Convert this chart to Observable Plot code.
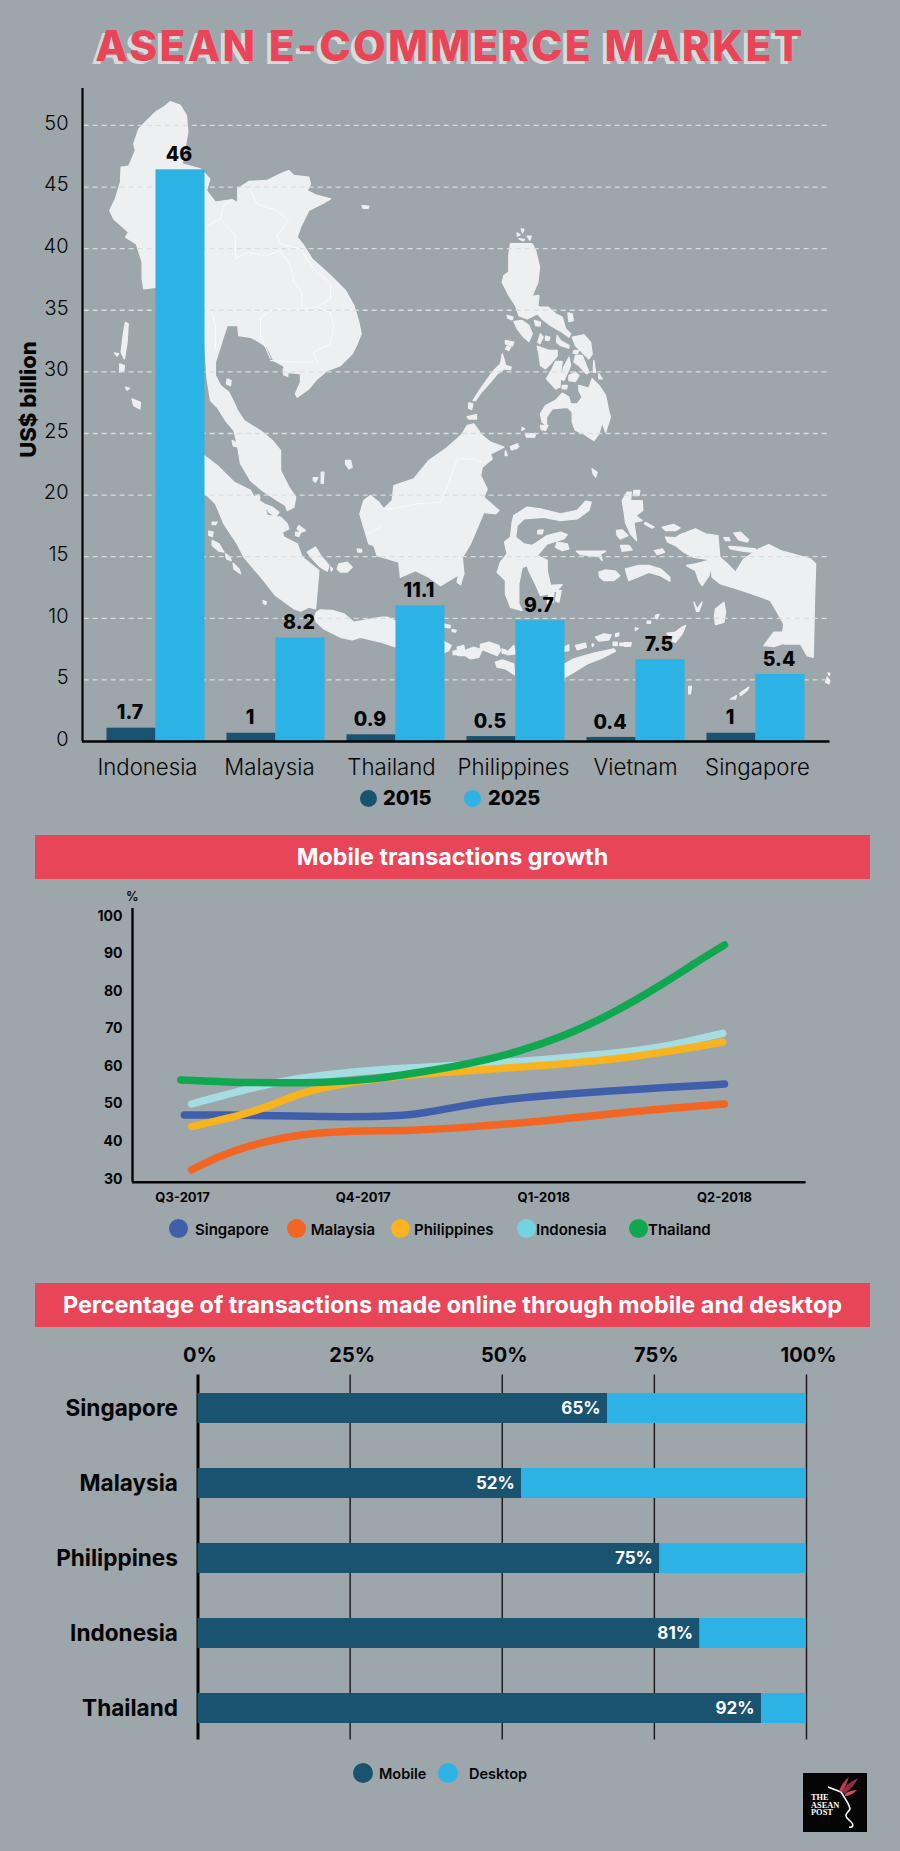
<!DOCTYPE html>
<html><head><meta charset="utf-8">
<script src="https://cdn.jsdelivr.net/npm/d3@7"></script>
<script src="https://cdn.jsdelivr.net/npm/@observablehq/plot@0.6"></script>
<style>
html,body{margin:0;padding:0;background:#9da6aa}
#page{position:relative;width:900px;height:1851px;background:#9da6aa;overflow:hidden;font-family:Inter,"Open Sans",sans-serif;color:#050505}
#page>*{position:absolute}
svg{background:transparent!important;overflow:visible}
#title{left:0;top:17px;width:900px;text-align:center;font-size:42.5px;line-height:58px;font-weight:800;letter-spacing:2.2px;color:#e84558;text-shadow:-4px 3px 0 #d8dbdc;white-space:nowrap}
.banner{left:35px;width:835px;background:#e84558;color:#fff;font-weight:700;text-align:center;white-space:nowrap}
.dot{border-radius:50%}
.lg{font-weight:700;white-space:nowrap;transform:translateY(-50%)}
#logo{left:803px;top:1773px;width:64px;height:59px;background:#050505}
</style></head><body><div id="page"></div>
<script>
// ---------- market size (US$ billion)
const countries = ["Indonesia","Malaysia","Thailand","Philippines","Vietnam","Singapore"];
const years = [2015, 2025];
const bars2015 = [1.08, 0.67, 0.54, 0.40, 0.33, 0.67];
const bars2025 = [46.4, 8.4, 11.0, 9.8, 6.65, 5.44];
const labels2015 = ["1.7","1","0.9","0.5","0.4","1"];
const labels2025 = ["46","8.2","11.1","9.7","7.5","5.4"];
const marketTicks = [0,5,10,15,20,25,30,35,40,45,50];

// ---------- mobile transactions growth: [quarter index, %]
const quarters = ["Q3-2017","Q4-2017","Q1-2018","Q2-2018"];
const singapore = [[.01,47.1],[.24,47.1],[.51,46.9],[.78,46.6],[1.05,46.6],[1.26,46.9],[1.48,48.9],[1.72,50.9],[1.99,52.2],[2.39,53.5],[2.66,54.4],[3,55.3]];
const malaysia = [[.05,32.5],[.21,36.3],[.37,38.9],[.56,41.2],[.78,42.5],[.99,42.9],[1.26,42.9],[1.58,43.8],[1.99,45.4],[2.39,47.5],[2.66,48.7],[3,50]];
const philippines = [[.05,44],[.24,46],[.46,48.9],[.64,52.8],[.83,54.9],[1.05,56.6],[1.31,58],[1.58,58.8],[1.99,60.2],[2.39,61.9],[2.66,63.7],[2.99,66.5]];
const indonesia = [[.05,50],[.24,52.5],[.51,55.8],[.78,57.8],[1.05,59],[1.31,59.7],[1.58,60.4],[1.99,61.7],[2.39,63.5],[2.66,65],[2.99,68.8]];
const thailand = [[-.01,56.4],[.24,55.8],[.51,55.6],[.78,55.7],[1.05,56.5],[1.31,58.4],[1.58,60.6],[1.85,63.7],[2.12,68.1],[2.39,74.3],[2.66,81.9],[2.84,87.6],[3,92.3]];
const growthSeries = [["Singapore",singapore,"#3f5fab"],["Malaysia",malaysia,"#f26522"],["Indonesia",indonesia,"#a5dde2"],["Philippines",philippines,"#f8b31e"],["Thailand",thailand,"#0fa74f"]];
const growthTicks = [30,40,50,60,70,80,90,100];

// ---------- share of transactions
const shareCountries = ["Singapore","Malaysia","Philippines","Indonesia","Thailand"];
const mobileBars = [67.3, 53.2, 75.9, 82.5, 92.6];
const mobileLabels = ["65%","52%","75%","81%","92%"];
const shareTicks = [0,25,50,75,100];

// ---------- backdrop map of the region, [lon, lat]
const mapLand = [
[[94.94,29.78],[95.65,29.5],[96.08,28.78],[96.18,27.59],[96,26.64],[95.77,25.33],[97.08,24.97],[97.75,24.26],[97.51,23.42],[98.15,22.59],[99.34,22.78],[99.75,22.54],[99.75,23.54],[100.54,24.07],[101.84,24.14],[102.8,24.61],[103.39,24.85],[103.75,24.5],[104.82,24.38],[104.94,23.9],[104.7,23.42],[105.42,23.07],[106.37,22.83],[105.89,22.54],[104.82,22],[104.23,20.8],[103.99,20.09],[104.46,19.5],[105.06,18.54],[106.37,17.35],[107.44,16.28],[108.04,15.21],[108.39,14.02],[108.56,13.19],[108.27,12.47],[107.92,11.76],[107.08,10.92],[106.13,10.57],[105.42,9.97],[104.82,9.26],[103.99,8.66],[103.87,8.9],[104.23,9.73],[104.23,10.33],[103.27,10.45],[102.99,10.92],[102.32,11.28],[101.84,12.23],[101.13,12.71],[100.65,12.95],[99.82,13.07],[99.75,13.78],[98.99,13.78],[98.75,13.07],[98.15,11.16],[98.15,10.21],[98.51,9.5],[99.11,9.02],[99.58,8.07],[99.71,7.74],[100.19,7],[101.5,6.17],[102.21,5.57],[102.8,4.86],[102.8,3.43],[103.4,2.24],[103.88,1.53],[103.76,.81],[103.28,.57],[103.16,.93],[102.57,1.29],[101.5,2],[100.66,2.72],[99.95,3.91],[99.71,5.33],[99.47,6.29],[98.88,7],[98.28,7.95],[97.8,8.43],[97.56,9.97],[97.32,13.54],[96,15],[93.87,16.52],[93.04,16.4],[92.92,17.12],[92.92,18.31],[92.51,19.62],[91.73,20.09],[91.96,20.45],[90.89,21.4],[90.61,22],[91.01,22.83],[91.37,24.02],[91.42,25.09],[91.96,25.16],[92.44,26.28],[92.32,26.76],[92.68,27.83],[93.04,28.19],[93.87,29.02],[94.46,29.38]],
[[91.73,14.02],[91.92,13.9],[91.84,12.59],[91.65,11.4],[91.42,11.87],[91.56,13.07]],
[[91.32,11.04],[91.65,10.92],[91.61,10.57],[91.32,10.45]],
[[90.94,11.83],[91.25,11.76],[91.13,11.6]],
[[92.2,8.54],[92.8,8.3],[92.75,7.83],[92.32,8.07]],
[[91.73,9.38],[92.01,9.3],[91.84,9.16]],
[[98.99,9.97],[99.27,9.85],[99.23,9.5],[98.94,9.62]],
[[102.99,10.69],[103.32,10.64],[103.32,10.16],[103.04,10.26]],
[[108.63,22.35],[109.11,22.3],[109.06,22.16],[108.7,22.16]],
// Philippines
[[119.23,19.62],[120.78,19.62],[121.02,19.14],[121.3,17.95],[121.18,16.88],[120.78,15.93],[120.9,15.21],[121.37,15.1],[121.9,15.1],[122.45,14.62],[122.92,14.38],[123.16,13.55],[123.52,13.19],[123.4,12.95],[122.92,13.31],[122.09,13.79],[121.61,14.14],[121.14,14.62],[120.42,14.26],[119.83,14.5],[119.59,15.21],[119.11,15.93],[118.64,16.88],[118.76,17.36],[119.11,17.6],[119.11,18.79]],
[[119.71,20.41],[119.9,20.26],[119.71,20.17]],[[120,20.69],[120.18,20.64],[120.09,20.41]],[[119.83,19.98],[120.23,19.93],[120.14,19.83]],[[120.42,20.17],[120.71,20.17],[120.61,19.88]],
[[120.85,15.88],[121.26,15.93],[121.18,15.21],[120.95,15.26]],
[[123.33,14.69],[123.64,14.62],[123.71,14.14],[123.4,14.07]],
[[119.47,14.07],[120.06,14.14],[120.54,13.79],[120.78,13.19],[120.54,12.64],[120.18,12.95],[119.71,13.55]],
[[118.99,14.5],[119.42,14.38],[119.35,14.19],[119.04,14.31]],
[[120.95,14.14],[121.37,14.02],[121.33,13.74],[121.02,13.79]],
[[122.56,13.07],[122.8,12.71],[123.4,12.36],[123.4,12.17],[122.8,12.36],[122.52,12.6]],
[[123.64,12.95],[124.47,13.12],[124.95,12.6],[125.06,11.76],[124.83,11.4],[124.35,11.88],[123.87,12.36]],
[[121.37,13.19],[121.56,12.95],[121.33,12.48],[121.18,12.6]],[[121.73,13.03],[122.04,12.95],[121.97,12.71],[121.73,12.74]],
[[121.14,12.31],[121.97,12],[122.56,12],[122.56,11.6],[122.09,11.05],[121.73,10.69],[121.37,10.93],[121.26,11.76]],
[[122.45,11.21],[122.92,11.21],[122.8,10.33],[122.76,9.38],[122.45,9.26],[121.8,9.98],[122.21,10.69]],
[[123.4,11.52],[123.52,10.93],[123.04,9.86],[122.8,9.98],[123.04,10.81]],
[[123.87,11.64],[124.35,11.64],[124.83,10.45],[124.66,10.33],[124.11,10.93],[123.76,11.17]],
[[123.4,10.21],[123.87,10.45],[124.11,10.21],[123.87,9.79],[123.4,9.86]],
[[122.92,9.5],[123.28,9.5],[123.23,9.26],[122.92,9.26]],
[[123.76,12],[124.11,12],[124,11.76],[123.71,11.81]],
[[125.18,11.29],[125.3,10.45],[125.14,10.45]],[[125.54,10.33],[125.78,9.98],[125.54,9.98]],
[[124.11,9.5],[124.83,9.31],[125.06,9.98],[125.54,9.5],[126.02,8.79],[126.26,7.6],[126.37,7.24],[126.02,6.17],[125.78,6.88],[125.54,6.05],[125.18,5.57],[124.47,6.05],[123.87,6.29],[123.64,6.88],[123.64,7.6],[123.28,7.95],[122.21,7.83],[121.8,7.24],[121.8,6.69],[121.49,6.88],[121.37,7.48],[121.73,8.07],[122.45,8.43],[122.92,8.95],[123.4,8.67],[123.52,8.19],[124,8.19],[124.35,8.67],[124.11,9.14]],
[[121.37,6.64],[121.9,6.64],[121.73,6.29],[121.42,6.36]],
[[120.3,6.05],[121.02,6.05],[120.95,5.81],[120.37,5.81]],
[[120.06,6.52],[120.23,6.4],[120.04,6.29]],
[[119.23,5.1],[119.75,5.33],[119.71,5.02],[119.28,4.93]],
[[118.64,11.76],[118.76,11.4],[118.87,10.93],[119.28,10.81],[119.23,10.64],[118.76,10.69],[118.28,10.33],[117.8,9.74],[117.09,8.95],[116.73,8.43],[116.56,8.43],[117.09,9.26],[117.68,10.1],[118.04,10.57],[118.52,11.05]],
[[116.26,8.26],[116.54,8.19],[116.45,7.79],[116.23,7.88]],
[[118.87,12.71],[119.47,12.6],[119.35,12.31],[118.87,12.48]],[[118.99,12.31],[119.23,12.24],[119.11,12],[118.87,12.12]],
// Sumatra and neighbours
[[96.61,4.86],[97.33,4.5],[98.28,3.79],[99.47,2.6],[100.66,2],[100.9,1.53],[101.61,1.05],[101.85,.21],[102.8,.1],[103.28,-.38],[103.4,-.74],[102.92,-.98],[103.04,-1.33],[103.99,-1.81],[104.35,-2.76],[105.54,-3.71],[105.42,-5.14],[105.3,-6.45],[104.83,-6.33],[104.23,-6.62],[103.76,-6.45],[102.45,-5.5],[101.61,-4.43],[100.19,-2.76],[99.71,-1.81],[98.76,-.38],[98.16,1.05],[97.57,1.64],[96.61,2.24]],
[[101.61,1.05],[102.21,.81],[102.69,.45],[102.45,.14],[101.97,.45]],
[[100.9,1.53],[101.26,1.69],[101.33,1.41],[101.02,1.29]],
[[104.11,-.5],[104.59,-.86],[104.23,-.98],[103.99,-.74]],
[[103.88,-.98],[104.23,-1.02],[104.11,-1.29],[103.88,-1.21]],
[[105.3,-2.05],[105.66,-2.64],[106.26,-3.36],[106.14,-3.76],[105.66,-3.48],[105.07,-2.88],[104.71,-2.4]],
[[106.97,-3.24],[107.57,-3.12],[107.92,-3.48],[107.57,-3.83],[107.09,-3.83],[106.85,-3.6]],
[[106.38,-3.48],[106.52,-3.6],[106.42,-3.76]],
[[108.28,-2.17],[108.59,-2.21],[108.59,-2.4],[108.33,-2.4]],
[[107.45,4.14],[107.8,4.14],[107.92,3.67],[107.68,3.55],[107.45,3.91]],
[[105.14,2.91],[105.47,2.91],[105.3,2.6],[105.14,2.72]],[[105.71,3.31],[105.9,3.31],[105.85,2.52],[105.71,2.52]],
[[97.92,-.26],[98.28,-.26],[98.16,-.43],[97.92,-.43]],
[[97.68,-.9],[97.99,-.98],[97.92,-1.29],[97.68,-1.21]],
[[97.92,-1.57],[98.4,-1.81],[98.76,-2.4],[98.4,-2.33],[97.92,-1.93]],
[[98.88,-2.52],[99.19,-2.76],[99.28,-3],[98.95,-2.88]],
[[99.42,-3.19],[99.83,-3.6],[99.95,-3.95],[99.47,-3.6]],
[[101.57,-5.86],[101.8,-5.98],[101.73,-6.14],[101.57,-6.05]],
[[99.35,5.57],[99.59,5.45],[99.66,5.14],[99.42,5.2]],
// Java and the Lesser Sundas
[[105.37,-6.69],[105.65,-6.53],[106.49,-6.57],[107.32,-6.81],[108.04,-7.41],[110.06,-7.05],[110.42,-7.05],[110.94,-7.29],[112.56,-8],[112.56,-9.31],[110.94,-9.15],[110.06,-8.84],[108.51,-8.48],[107.92,-8.67],[107.08,-8.48],[105.89,-7.88],[105.37,-7.41],[105.23,-7.05]],
[[114.46,-7.53],[114.94,-7.65],[114.89,-7.81],[114.51,-7.76]],
[[115.06,-7.93],[115.35,-8],[115.3,-8.12],[115.06,-8.07]],
[[114.42,-8.76],[114.99,-9.07],[114.82,-9.43],[114.42,-9.62]],
[[115.13,-9.48],[115.42,-9.43],[115.54,-9.72],[115.13,-9.72]],
[[115.42,-9.19],[115.89,-9.07],[116.01,-9.79],[115.46,-9.79]],
[[116.01,-9.43],[116.6,-9.19],[117.2,-9.38],[116.96,-9.91],[116.37,-10.03],[116.01,-9.79]],
[[117.08,-9],[117.68,-8.84],[118.39,-9.07],[118.51,-9.43],[118.27,-9.79],[117.68,-9.55],[117.08,-9.31]],
[[118.63,-9.31],[118.94,-9.43],[118.87,-9.67],[118.63,-9.62]],
[[118.99,-9.55],[119.46,-9.07],[119.58,-9.67],[118.99,-9.74]],
[[123.04,-9.19],[123.39,-9.03],[123.39,-9.43],[123.04,-9.48]],
[[123.87,-9.07],[124.58,-8.91],[124.65,-9.19],[123.99,-9.38]],
[[118.15,-10.26],[118.63,-10.1],[119.46,-10.38],[119.51,-11.15],[118.87,-10.74],[118.27,-10.62]],
[[122.32,-10.74],[122.92,-10.5],[123.75,-10.03],[125.18,-9.62],[126.61,-9.31],[126.73,-9.48],[125.89,-9.91],[124.7,-10.38],[123.75,-10.98],[122.92,-11.45]],
[[125.3,-8.48],[125.89,-8.24],[126.42,-8.31],[126.25,-8.67],[125.54,-8.76]],
[[126.73,-8.24],[126.96,-8.17],[126.96,-8.36],[126.73,-8.43]],
[[126.56,-8.84],[126.85,-8.84],[126.85,-9.07],[126.56,-9.07]],
[[127.04,-8.91],[127.27,-8.91],[127.27,-9.07],[127.04,-9.07]],
[[127.32,-8.88],[127.85,-8.88],[127.8,-9.12],[127.37,-9.12]],
[[125.06,-8.95],[125.18,-9],[125.08,-9.15]],
[[128.99,-7.34],[129.23,-7.34],[129.23,-7.48],[128.99,-7.48]],
[[129.58,-6.93],[129.82,-6.86],[129.7,-7.17],[129.58,-7.1]],
[[128.15,-7.81],[128.35,-7.86],[128.15,-8]],
[[130.42,-8.19],[131.01,-8.12],[131.49,-7.76],[131.73,-7.65],[131.49,-8.24],[131.01,-8.84],[130.77,-8.76],[130.89,-8.36],[130.47,-8.33]],
[[131.96,-12],[132.15,-12],[132.08,-12.53],[131.96,-12.53]],
// Borneo
[[108.47,.33],[108.75,1.28],[109.23,1.64],[109.82,1.16],[110.18,.69],[110.78,1.28],[110.9,2.35],[112.32,2.83],[113.4,4.14],[114.59,4.97],[115.42,5.69],[115.78,6.04],[116.13,6.64],[116.61,6.76],[117.2,5.92],[117.8,5.45],[118.75,5.09],[118.28,4.85],[117.8,4.61],[117.92,4.26],[117.2,3.66],[117.09,3.07],[117.56,2.11],[117.32,1.52],[118.4,.57],[118.16,.33],[117.32,.45],[116.97,-.39],[116.37,-1.81],[115.78,-2.77],[115.9,-3.96],[115.42,-4.08],[114.23,-4.79],[113.4,-4.19],[112.44,-3.72],[111.37,-4.19],[111.25,-3.12],[109.7,-2.65],[109.47,-1.93],[109.11,-1.81],[108.75,-.62]],
[[116.13,7.28],[116.8,7.42],[116.8,7.11],[116.25,7.11]],
[[119.23,5.14],[119.7,5.33],[119.82,5.14],[119.35,4.9]],
[[118.87,4.85],[118.99,4.5],[118.85,4.5]],
[[115.54,-3.96],[115.9,-3.91],[115.66,-4.72],[115.42,-4.55]],
// Sulawesi
[[119.35,-.27],[119.47,.21],[120.42,.81],[121.37,.69],[122.8,.33],[123.99,.57],[124.59,1.23],[124.99,1.16],[124.82,.57],[123.99,-.03],[122.8,-.15],[121.61,.09],[120.18,-.03],[119.7,-.5],[119.59,-1.34],[120.18,-1.81],[120.78,-1.93],[121.85,-1.22],[122.8,-.98],[123.28,-1.15],[123.04,-1.46],[121.85,-1.81],[121.13,-2.65],[121.85,-3],[121.85,-3.72],[122.09,-4.79],[122.92,-4.72],[122.56,-5.15],[121.85,-5.39],[121.37,-5.5],[121.01,-4.67],[120.54,-3.72],[120.42,-3.36],[120.06,-3.48],[119.82,-4.67],[119.82,-6.1],[120.06,-6.58],[119.23,-6.34],[118.87,-5.39],[118.87,-4.43],[118.28,-3.84],[118.51,-3.12],[118.99,-2.53],[118.8,-1.69],[119.23,-1.34]],
[[122.56,-1.69],[123.28,-1.81],[123.4,-2.17],[122.92,-2.29],[122.44,-2.05]],
[[121.18,-.86],[121.56,-.81],[121.49,-1.1],[121.18,-1.1]],
[[121.97,-5.39],[122.32,-5.27],[122.28,-5.98],[121.85,-6.05]],
[[122.56,-5.15],[122.85,-5.15],[122.68,-5.98],[122.44,-5.86]],
[[125.06,3.54],[125.42,3.3],[125.3,2.95],[125.13,3.19]],
// Maluku and Papua
[[123.94,-2.34],[126.02,-2.34],[125.66,-2.53],[125.78,-3],[125.54,-2.72],[124.23,-2.58]],
[[125.54,-3.84],[126.02,-3.67],[126.73,-3.77],[127.04,-4.08],[126.61,-4.43],[125.9,-4.43],[125.61,-4.19]],
[[127.44,-3.6],[128.4,-3.36],[129.11,-3.36],[129.94,-3.6],[130.61,-4.19],[130.61,-4.48],[129.94,-4.08],[129.11,-3.84],[128.28,-4.19],[127.68,-4.43],[127.56,-4.08]],
[[127.21,1.28],[127.56,1.88],[127.85,1.88],[127.8,1.28],[128.63,1.28],[128.68,.57],[128.16,.21],[128.63,-.15],[128.04,-.27],[128.23,-1.58],[127.8,-1.1],[127.44,-.27],[127.33,.57]],
[[128.04,2],[128.47,2],[128.4,1.64],[128,1.64]],
[[128.87,-.27],[129.47,-.62],[129.35,-.69],[128.8,-.39]],
[[126.8,-.86],[127.2,-.81],[127.61,-1.22],[127.09,-1.46],[126.85,-1.22]],
[[127.09,-1.93],[127.68,-1.93],[127.92,-2.24],[127.21,-2.34]],
[[129.52,-2.29],[130.06,-2.17],[130.23,-2.41],[129.71,-2.58]],
[[130.06,-.62],[130.9,-.43],[131.33,-.67],[131.02,-.86],[130.3,-.86]],
[[130.3,-1.34],[131.02,-1.38],[131.37,-1.15],[132.44,-.74],[133.16,-1.1],[134.04,-1.22],[134.18,-2.77],[134.71,-3.24],[135.3,-3.84],[135.9,-2.89],[136.97,-2.17],[137.68,-1.86],[138.52,-2.29],[140.66,-2.89],[141.02,-3.24],[140.94,-5.86],[140.85,-9.91],[140.42,-9.79],[139.94,-8.96],[138.75,-8.96],[138.63,-8.48],[138.75,-7.53],[138.28,-6.69],[137.8,-5.86],[136.85,-5.5],[135.42,-5.03],[134.23,-4.67],[133.63,-4.19],[133.52,-3.12],[133.23,-2.89],[132.33,-2.77],[131.61,-2.41],[131.02,-1.93],[130.47,-1.69]],
[[131.8,-3.36],[132.44,-3.24],[133.4,-3],[133.63,-3.12],[133.4,-4.08],[132.92,-4.79],[132.68,-4.43],[132.44,-3.72]],
[[135.18,-1.05],[135.66,-.98],[136.25,-1.53],[136.13,-1.69],[135.54,-1.53]],
[[134.82,-2],[135.66,-2.05],[136.73,-2.17],[136.61,-2.41],[135.9,-2.34],[134.94,-2.17]],
[[134.47,-1.38],[134.82,-1.38],[134.9,-1.58],[134.59,-1.58]],
[[137.33,-9.08],[138.04,-8.12],[138.71,-8.12],[138.63,-8.96],[138.04,-9.15]],
[[133.87,-6.46],[134.47,-5.98],[134.59,-6.69],[134.47,-7.41],[133.87,-7.58],[133.8,-7.05]],
[[132.33,-5.98],[132.56,-6.46],[132.92,-5.98],[132.68,-6.62],[132.52,-6.62]],
[[141.85,-11.34],[142.04,-11.58],[141.97,-11.81],[141.73,-11.69]],
[[141.9,-11.05],[142.04,-11.05],[142,-11.2]],
[[134.94,-12.9],[135.37,-12.65],[135.3,-12.9]],
[[135.61,-12.48],[136.25,-12.05],[136.13,-12.29],[135.66,-12.65]]
];
const mapBorders = [
[[100.54,23.66],[101.13,22.47],[102.56,22],[103.39,21.28],[102.56,20.21],[102.8,19.62],[104.23,19.26],[105.18,17.83],[106.37,16.76],[106.37,15.69],[105.42,15.09],[106.37,14.73],[106.6,13.78],[106.37,12.47],[105.18,11.88],[105.42,11.16]],
[[97.56,20.92],[98.51,21.4],[98.75,22.35],[99.34,22.78]],
[[98.51,21.4],[99.58,20.21],[99.58,18.54],[100.42,19.02],[101.84,18.78],[102.8,19.14],[103.51,18.07],[103.75,16.88],[104.34,16.16],[104.34,14.97],[102.32,14.97],[101.37,14.38],[101.37,13.07],[102.08,11.4]],
[[102.08,11.28],[103.99,11.16],[105.18,11.16]],
[[104.34,14.97],[105.42,15.09]],
[[97.8,14.97],[98.15,13.78],[98.15,12.12]],
[[110.18,.69],[110.78,.69],[112.56,1.04],[114.23,1.16],[114.7,2.23],[115.42,4.26],[116.49,4.26],[117.2,4.02]],
[[108.99,-1.1],[109.94,-.62]]
];

// ---------- page helpers
const page = document.getElementById("page");
const bg = "#9da6aa", dark = "#1a5370", blue = "#2db2e6", ink = "#050505";
function place(node, left, top){ node.style.left = left+"px"; node.style.top = top+"px"; page.appendChild(node); return node; }
function html(cls, text, left, top, css={}){ const d=document.createElement("div"); d.className=cls; d.textContent=text; Object.assign(d.style,css); return place(d,left,top); }
function dot(color, cx, cy, r){ return html("dot","",cx-r,cy-r,{width:2*r+"px",height:2*r+"px",background:color}); }
const fontBase = {fontFamily:"Inter, 'Open Sans', sans-serif", background:"transparent", overflow:"visible"};

html("","ASEAN E-COMMERCE MARKET",0,17).id="title";

// map
const mapProjection = d3.geoIdentity().reflectY(true).scale(14).translate([-82.8*14, 37*14]);
place(Plot.plot({width:900,height:760,margin:0,projection:mapProjection,style:fontBase,marks:[
  Plot.geo({type:"MultiPolygon",coordinates:mapLand.map(r=>[[...r,r[0]]])},{fill:"#eeeff1",stroke:"#eeeff1",strokeWidth:1.4,strokeLinejoin:"round"}),
  Plot.geo({type:"MultiLineString",coordinates:mapBorders},{stroke:"#fafafa",strokeWidth:1})
]}),0,0);

// market bars
const groupWidth = 49/120;
const marketRows = years.flatMap((year,j)=>countries.map((country,i)=>({
  country,year,i,j,
  value:(j?bars2025:bars2015)[i],
  label:(j?labels2025:labels2015)[i]
})));
place(Plot.plot({
  width:900,height:800,marginLeft:82,marginRight:70.5,marginTop:0,marginBottom:0,style:fontBase,
  x:{domain:[-.204,6.025],axis:null},
  y:{domain:[0,53],range:[741,88],axis:null},
  color:{domain:years,range:[dark,blue]},
  marks:[
    Plot.ruleY(marketTicks.slice(1),{x1:-.19,x2:6.025,stroke:"#dadddd",strokeDasharray:"5 4",strokeWidth:1.3}),
    Plot.rectY(marketRows,{x1:d=>d.i+d.j*groupWidth,x2:d=>d.i+(d.j+1)*groupWidth,y1:0,y2:"value",fill:"year"}),
    Plot.text(marketRows,{x:d=>d.i+(d.j+.47)*groupWidth,y:"value",text:"label",dy:-15,fontSize:19.5,fontWeight:800,fill:ink}),
    Plot.text(marketTicks,{x:-.204,y:d=>d,text:String,textAnchor:"end",dx:-14,dy:-2,fontSize:20,fontWeight:300,fill:ink}),
    Plot.ruleX([-.204],{y1:0,y2:53,stroke:ink,strokeWidth:2.2}),
    Plot.ruleY([0],{x1:-.204,x2:6.025,stroke:ink,strokeWidth:2.6}),
    Plot.text(["US$ billion"],{x:-.204,y:27.6,rotate:-90,dx:-54,dy:-2,fontSize:22,fontWeight:800,fill:ink})
  ]}),0,0);

// country names
place(Plot.plot({width:900,height:36,marginLeft:86,marginRight:82,marginTop:0,marginBottom:0,style:fontBase,
  x:{domain:countries,axis:null},y:{domain:[0,1],axis:null},
  marks:[Plot.text(countries,{x:d=>d,frameAnchor:"middle",fontSize:22.2,fontWeight:300,fill:ink})]}),0,749);

dot(dark,368.5,798,8.5);html("lg","2015",383,798,{fontSize:20+"px",fontWeight:800});
dot(blue,472,798,8.5);html("lg","2025",488,798,{fontSize:20+"px",fontWeight:800});

html("banner","Mobile transactions growth",35,835,{height:44+"px",lineHeight:44+"px",fontSize:23.3+"px"});

// growth lines
const growthRows = growthSeries.flatMap(([name,pts])=>pts.map(([q,v])=>({name,q,v})));
html("","%",126,889,{fontSize:12.5+"px",fontWeight:600});
place(Plot.plot({width:900,height:320,marginLeft:132,marginRight:94.4,marginTop:18,marginBottom:28.3,style:fontBase,
  x:{domain:[-.277,3.452],axis:null},
  y:{domain:[29.2,102],axis:null},
  color:{domain:growthSeries.map(s=>s[0]),range:growthSeries.map(s=>s[2])},
  marks:[
    Plot.line(growthRows,{x:"q",y:"v",z:"name",stroke:"name",strokeWidth:7.5,curve:"basis",strokeLinecap:"round"}),
    Plot.ruleX([-.277],{y1:29.2,y2:102,stroke:ink,strokeWidth:2.4}),
    Plot.ruleY([29.2],{x1:-.277,x2:3.452,stroke:ink,strokeWidth:2.4}),
    Plot.text(growthTicks,{x:-.277,y:d=>d,text:String,textAnchor:"end",dx:-10,fontSize:14,fontWeight:700,fill:ink}),
    Plot.text(quarters,{x:(d,i)=>i,y:29.2,text:d=>d,dy:16,fontSize:13,fontWeight:700,fill:ink})
  ]}),0,890);
[["Singapore",178,195,"#3f5fab"],["Malaysia",296.7,310.7,"#f26522"],["Philippines",400.4,414,"#f8b31e"],["Indonesia",526,536,"#74d3e0"],["Thailand",638,648,"#0fa74f"]]
 .forEach(([t,cx,tx,c])=>{dot(c,cx,1228.7,9.5);html("lg",t,tx,1228.7,{fontSize:15+"px",fontWeight:600});});

html("banner","Percentage of transactions made online through mobile and desktop",35,1283,{height:44+"px",lineHeight:44+"px",fontSize:23.4+"px"});

// share bars
const shareRows = shareCountries.flatMap((country,i)=>[
  {country,kind:"Mobile",share:mobileBars[i]},
  {country,kind:"Desktop",share:100-mobileBars[i]}]);
place(Plot.plot({width:900,height:430,marginLeft:197.5,marginRight:94,marginTop:44.4,marginBottom:20.4,style:fontBase,
  x:{domain:[0,100],axis:null},
  y:{domain:shareCountries,range:[62.2,394.8],paddingInner:.597,paddingOuter:0,axis:null},
  color:{domain:["Mobile","Desktop"],range:[dark,blue]},
  marks:[
    Plot.ruleX(shareTicks.slice(1),{stroke:"#151515",strokeWidth:1.4}),
    Plot.ruleX([0],{stroke:ink,strokeWidth:3}),
    Plot.barX(shareRows,Plot.stackX({x:"share",y:"country",fill:"kind",order:null})),
    Plot.text(shareCountries,{x:0,y:d=>d,text:d=>d,textAnchor:"end",dx:-20,fontSize:22.6,fontWeight:700,fill:ink}),
    Plot.text(shareCountries,{x:(d,i)=>mobileBars[i],y:d=>d,text:(d,i)=>mobileLabels[i],textAnchor:"end",dx:-7,fontSize:17,fontWeight:700,fill:"#fff"}),
    Plot.text(shareTicks,{x:d=>d,y:()=>shareCountries[0],text:d=>d+"%",dy:-53,dx:2,fontSize:20,fontWeight:700,fill:ink})
  ]}),0,1330);

dot(dark,363,1773,10);html("lg","Mobile",379,1773,{fontSize:14.5+"px",fontWeight:600});
dot(blue,448,1773,10);html("lg","Desktop",469,1773,{fontSize:14.5+"px",fontWeight:600});

// logo
const logo=document.createElement("div");logo.id="logo";
logo.innerHTML=`<svg width="64" height="59" viewBox="0 0 64 59" style="position:absolute;left:0;top:0">
<path d="M25 14 L38 19 C42 26 46 30 47 36 C44 41 40 42 46 47 C52 52 50 55 46 54" fill="none" stroke="#fff" stroke-width="1.6"/>
<path d="M36 18 C38 12 42 7 46 4 C44 10 42 13 40 19 Z" fill="#c23b52"/>
<path d="M39 18 C44 10 50 8 55 5 C52 12 46 18 41 21 Z" fill="#8e2b49"/>
<path d="M42 21 C46 18 50 17 54 17 C50 21 46 23 42 23 Z" fill="#d4534f"/>
<text x="8" y="27" font-family="'Liberation Serif',serif" font-weight="700" font-size="8.4" fill="#fff">THE</text>
<text x="8" y="34.5" font-family="'Liberation Serif',serif" font-weight="700" font-size="8.4" fill="#fff">ASEAN</text>
<text x="8" y="42" font-family="'Liberation Serif',serif" font-weight="700" font-size="8.4" fill="#fff">POST</text></svg>`;
page.appendChild(logo);
</script></body></html>
